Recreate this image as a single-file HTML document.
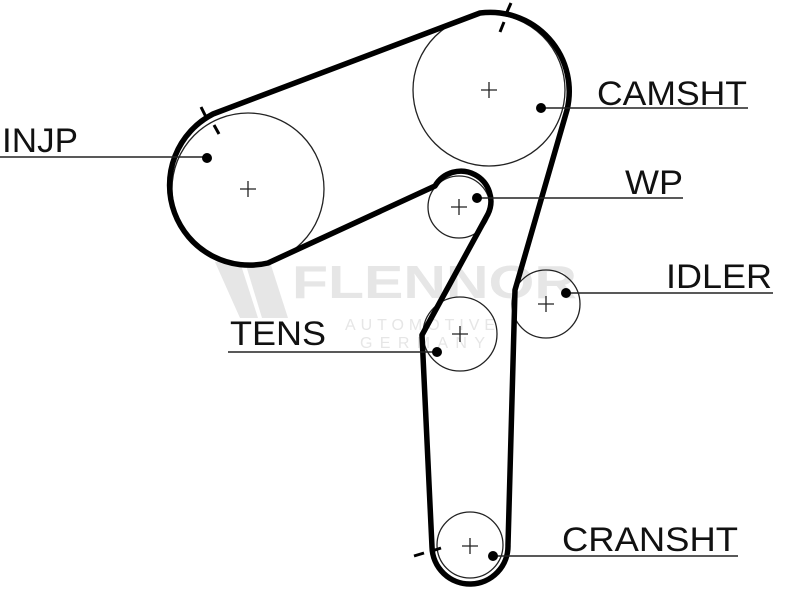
<!DOCTYPE html>
<html><head><meta charset="utf-8"><style>html,body{margin:0;padding:0;background:#fff;}svg{display:block}</style></head>
<body>
<svg width="800" height="600" viewBox="0 0 800 600" xmlns="http://www.w3.org/2000/svg">
<rect width="800" height="600" fill="#fff"/>
<!-- watermark -->
<g fill="#e6e6e6" font-family="Liberation Sans, sans-serif" font-weight="bold">
<polygon points="215,262 240,262 258,318 240,318"/>
<polygon points="245,262 270,262 288,318 262,318"/>
<text x="292" y="298" font-size="46" textLength="285" lengthAdjust="spacingAndGlyphs">FLENNOR</text>
<text x="345" y="330" font-size="16" font-weight="normal" textLength="150" lengthAdjust="spacing">AUTOMOTIVE</text>
<text x="360" y="348" font-size="16" font-weight="normal" textLength="125" lengthAdjust="spacing">GERMANY</text>
</g>
<!-- pulleys -->
<g fill="none" stroke="#222" stroke-width="1.3">
<circle cx="489" cy="90" r="76"/>
<circle cx="248" cy="189" r="76"/>
<circle cx="459" cy="207" r="31"/>
<circle cx="546" cy="304" r="34"/>
<circle cx="460" cy="334" r="37"/>
<circle cx="470" cy="545" r="33"/>
</g>
<!-- crosses -->
<g stroke="#222" stroke-width="1.3">
<path d="M481 90h16M489 82v16"/>
<path d="M240 189h16M248 181v16"/>
<path d="M451 207h16M459 199v16"/>
<path d="M538 304h16M546 296v16"/>
<path d="M452 334h16M460 326v16"/>
<path d="M462 546h16M470 538v16"/>
</g>
<!-- belt -->
<path d="M213 114 L480 13 A79 79 0 0 1 567 110 L515 290 L508 545 A38 38 0 0 1 432 547 L422 335 L488 214 A30 30 0 0 0 435 186 L268 263 A80 80 0 0 1 213 114 Z" fill="none" stroke="#000" stroke-width="5.5" stroke-linejoin="round"/>
<!-- timing marks -->
<g stroke="#000" stroke-width="3">
<path d="M511 3 L507 12"/><path d="M504 22 L500 32"/>
<path d="M201 107 L206 117"/><path d="M214 125 L219 134"/>
<path d="M414 556 L424 553"/><path d="M432 551 L441 548"/>
</g>
<!-- leader lines -->
<g stroke="#222" stroke-width="1.5">
<path d="M540 108 H748"/>
<path d="M0 157 H207"/>
<path d="M476 198 H683"/>
<path d="M565 293 H773"/>
<path d="M228 352 H437"/>
<path d="M493 556 H738"/>
</g>
<g fill="#000">
<circle cx="541" cy="108" r="5"/>
<circle cx="207" cy="158" r="5"/>
<circle cx="477" cy="198" r="5"/>
<circle cx="566" cy="293" r="5"/>
<circle cx="437" cy="352" r="5"/>
<circle cx="493" cy="556" r="5"/>
</g>
<g font-family="Liberation Sans, sans-serif" font-size="34" fill="#111">
<text x="597" y="105" textLength="150" lengthAdjust="spacingAndGlyphs">CAMSHT</text>
<text x="2" y="152" textLength="76" lengthAdjust="spacingAndGlyphs">INJP</text>
<text x="625" y="194" textLength="58" lengthAdjust="spacingAndGlyphs">WP</text>
<text x="666" y="288" textLength="106" lengthAdjust="spacingAndGlyphs">IDLER</text>
<text x="230" y="345" textLength="96" lengthAdjust="spacingAndGlyphs">TENS</text>
<text x="562" y="551" textLength="176" lengthAdjust="spacingAndGlyphs">CRANSHT</text>
</g>
</svg>
</body></html>
